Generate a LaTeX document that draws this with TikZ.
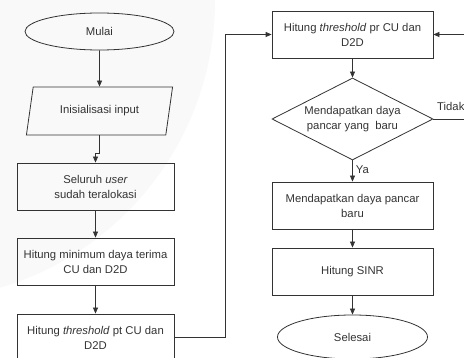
\documentclass[tikz,border=0pt]{standalone}
\usepackage{fontspec}
\setmainfont{Liberation Sans}
\usetikzlibrary{shapes.geometric,arrows.meta}

\begin{document}
\begin{tikzpicture}
[x=1pt,y=-1pt,%
  line/.style={draw=black!80,line width=0.8pt},%
  flow/.style={line,-{Triangle[length=6pt,width=5pt]}},%
  every node/.style={font=\fontsize{11.3}{15}\selectfont,text=black!80,align=center,inner sep=0pt},%
  box/.style={line,rectangle,minimum width=157,minimum height=47},%
  rbox/.style={box,minimum width=161},%
  term/.style={line,ellipse,minimum width=149,minimum height=37},%
  io/.style={line,trapezium,trapezium left angle=69,trapezium right angle=111,%
    minimum width=147,minimum height=48,trapezium stretches=true},%
  cond/.style={line,diamond,aspect=2,minimum width=161,minimum height=82}]
\useasboundingbox (0,0) rectangle (464,358);
% faint background watermark
\fill[gray!5] (-85,0) circle (300);
% left column
\node[term] (mulai) at (99.5,31.5) {Mulai};
\node[io] (input) at (99.5,111) {Inisialisasi input};
\node[box] (user) at (95.5,186.5) {Seluruh \textit{user}\\sudah teralokasi};
\node[box] (minimum) at (95.5,261.5) {Hitung minimum daya terima\\CU dan D2D};
\node[box] (pt) at (95.5,337.5) {Hitung \textit{threshold} pt CU dan\\D2D};
% right column
\node[rbox] (pr) at (352.5,34.5) {Hitung \textit{threshold} pr CU dan\\D2D};
\node[cond] (cek) at (352.5,119) {Mendapatkan daya\\pancar yang\ \ baru};
\node[rbox] (baru) at (352.5,205.5) {Mendapatkan daya pancar\\baru};
\node[rbox] (sinr) at (352.5,271.5) {Hitung SINR};
\node[term,minimum height=44,minimum width=150] (selesai) at (352.5,337) {Selesai};
\coordinate (kiri) at (225,34.5);
\coordinate (kanan) at (470,119);
% connectors
\draw[flow] (mulai) -- (input);
\draw[flow] (input.south) -- ++(0,18) -| (user.north);
\draw[flow] (user) -- (minimum);
\draw[flow] (minimum) -- (pt);
\draw[flow] (pt.east) -| (kiri) -- (pr.west);
\draw[flow] (pr) -- (cek);
\draw[flow] (cek) -- node[right=3pt,pos=0.45] (ya) {Ya} (baru);
\draw[flow] (baru) -- (sinr);
\draw[flow] (sinr) -- (selesai);
\draw[flow] (cek.east) -- (kanan) |- (pr.east);
\node[anchor=west] (tidak) at (437,106) {Tidak};
\end{tikzpicture}
\end{document}
